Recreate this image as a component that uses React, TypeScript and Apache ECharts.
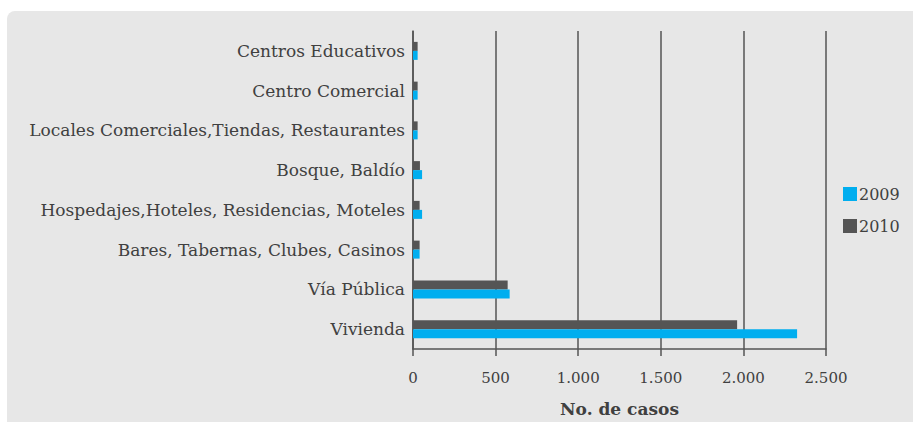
import React, { useEffect, useRef } from "react";
import * as echarts from "echarts";

const categories = [
  "Centros Educativos",
  "Centro Comercial",
  "Locales Comerciales,Tiendas, Restaurantes",
  "Bosque, Baldío",
  "Hospedajes,Hoteles, Residencias, Moteles",
  "Bares, Tabernas, Clubes, Casinos",
  "Vía Pública",
  "Vivienda",
];
const values2009 = [28, 28, 28, 55, 55, 40, 585, 2325];
const values2010 = [28, 28, 28, 42, 40, 40, 573, 1962];

const fmt = (v: number) => (v >= 1000 ? `${Math.floor(v / 1000)}.${String(v % 1000).padStart(3, "0")}` : String(v));

export default function App() {
  const ref = useRef<HTMLDivElement>(null);
  useEffect(() => {
    const chart = echarts.init(ref.current!, null, { renderer: "svg" });
    const font = "DejaVu Serif";
    chart.setOption({
      animation: false,
      backgroundColor: "#ffffff",
      graphic: [
        {
          type: "rect",
          shape: { x: 7, y: 11, width: 940, height: 440, r: 8 },
          style: { fill: "#e7e7e7" },
          z: -10,
        },
      ],
      legend: {
        orient: "vertical",
        left: 838,
        top: 181,
        itemWidth: 14,
        itemHeight: 14,
        itemGap: 16,
        icon: "rect",
        textStyle: { fontFamily: font, fontSize: 16, color: "#404040", padding: [0, 0, 0, -3] },
        data: ["2009", "2010"],
      },
      grid: { left: 413, right: 87, top: 31, bottom: 70 },
      xAxis: {
        type: "value",
        min: 0,
        max: 2500,
        interval: 500,
        name: "No. de casos",
        nameLocation: "middle",
        nameGap: 51,
        nameTextStyle: { fontFamily: font, fontSize: 17, fontWeight: "bold", color: "#404040" },
        axisLine: { show: true, lineStyle: { color: "#555", width: 1.5 } },
        axisTick: { show: true, length: 7, lineStyle: { color: "#555", width: 1.5 } },
        splitLine: { show: true, lineStyle: { color: "#555", width: 1.5 } },
        axisLabel: {
          fontFamily: font,
          fontSize: 15,
          color: "#404040",
          margin: 21,
          formatter: (v: number) => fmt(v),
        },
      },
      yAxis: {
        type: "category",
        inverse: true,
        data: categories,
        axisLine: { show: true, lineStyle: { color: "#555", width: 1.5 } },
        axisTick: { show: false },
        axisLabel: { fontFamily: font, fontSize: 17, color: "#404040", margin: 8 },
      },
      series: [
        {
          name: "2010",
          type: "bar",
          data: values2010,
          barWidth: 9,
          barGap: "0%",
          itemStyle: { color: "#555555" },
        },
        {
          name: "2009",
          type: "bar",
          data: values2009,
          barWidth: 9,
          barGap: "0%",
          itemStyle: { color: "#00aeef" },
        },
      ],
    });
    return () => chart.dispose();
  }, []);
  return <div ref={ref} style={{ position: "fixed", left: 0, top: 0, width: 913, height: 422 }} />;
}
